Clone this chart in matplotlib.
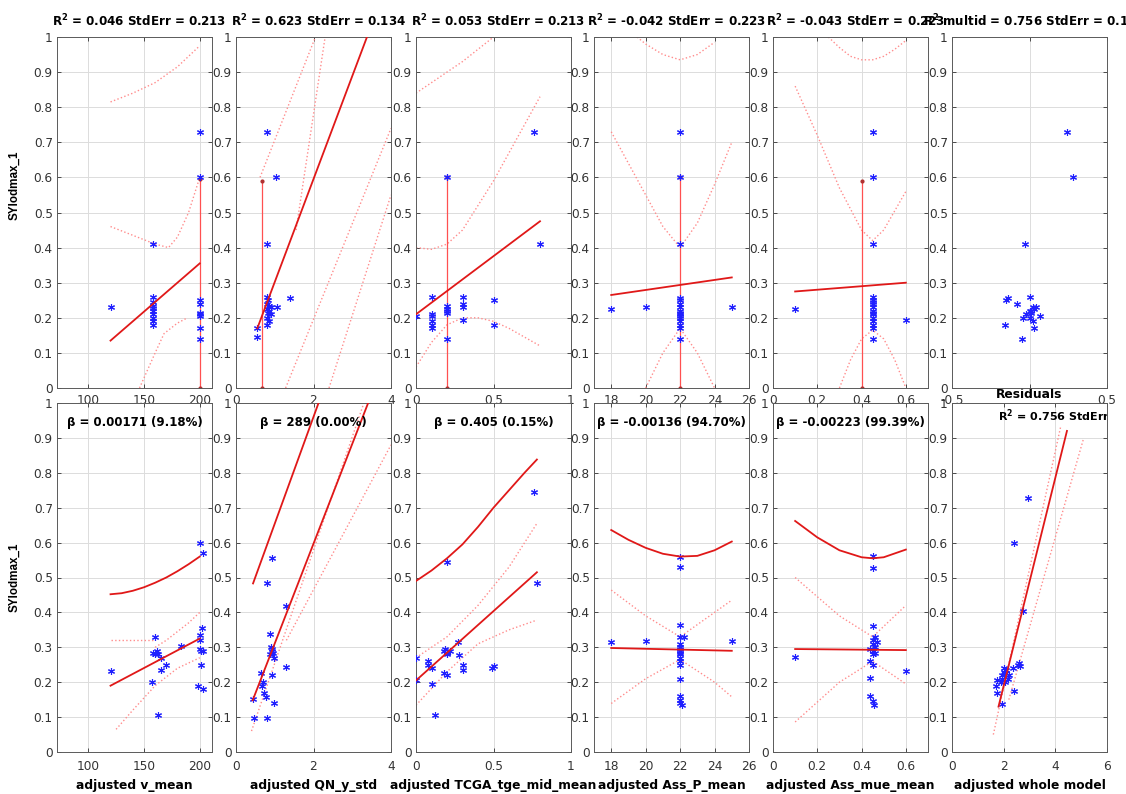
import matplotlib
matplotlib.use("Agg")
import matplotlib.pyplot as plt

plt.rcParams['font.family'] = ['DejaVu Sans']
plt.rcParams['mathtext.fontset'] = 'dejavusans'

# ---------------- data ----------------
R2 = r'$\mathbf{R}^{\mathbf{2}}$'
TITLES = [R2 + " = 0.046 StdErr = 0.213", R2 + " = 0.623 StdErr = 0.134",
          R2 + " = 0.053 StdErr = 0.213", R2 + " = -0.042 StdErr = 0.223",
          R2 + " = -0.043 StdErr = 0.223", R2 + " multid = 0.756 StdErr = 0.112"]
BETAS = ["β = 0.00171 (9.18%)", "β = 289 (0.00%)", "β = 0.405 (0.15%)",
         "β = -0.00136 (94.70%)", "β = -0.00223 (99.39%)"]
WHOLE_TEXT = R2 + " = 0.756 StdErr = 0.112"
XLABELS = ["adjusted v_mean", "adjusted QN_y_std", "adjusted TCGA_tge_mid_mean",
           "adjusted Ass_P_mean", "adjusted Ass_mue_mean", "adjusted whole model"]
YLABEL = "SYlodmax_1"
TOP6_XLABEL = "Residuals"

XLIMS = [(72, 211), (0, 4), (0, 1), (17, 26), (0, 0.7), (-0.5, 0.5)]
XTICKS = [[100, 150, 200], [0, 2, 4], [0, 0.5, 1], [18, 20, 22, 24, 26],
          [0, 0.2, 0.4, 0.6], [-0.5, 0, 0.5]]
XTICKLABELS = [["100", "150", "200"], ["0", "2", "4"], ["0", "0.5", "1"],
               ["18", "20", "22", "24", "26"], ["0", "0.2", "0.4", "0.6"],
               ["-0.5", "", "0.5"]]
B6_XLIM = (0, 6)
B6_XTICKS = [0, 2, 4, 6]
YTICKS = [0, 0.1, 0.2, 0.3, 0.4, 0.5, 0.6, 0.7, 0.8, 0.9, 1]
YTICKLABELS = ["0", "0.1", "0.2", "0.3", "0.4", "0.5", "0.6", "0.7", "0.8", "0.9", "1"]

# ---- top row ----
T1_X = [120, 158, 158, 158, 158, 158, 158, 158, 158, 158, 158,
        200, 200, 200, 200, 200, 200, 200, 200, 200]
T1_Y = [0.232, 0.41, 0.26, 0.245, 0.235, 0.228, 0.22, 0.21, 0.2, 0.19, 0.18,
        0.73, 0.60, 0.25, 0.24, 0.215, 0.21, 0.205, 0.17, 0.14]
T1_FIT = ([120, 200], [0.135, 0.355])
T1_VLINE = (200, 0.595)
T1_DOTS = [([120, 140, 160, 180, 200], [0.815, 0.84, 0.87, 0.915, 0.975]),
           ([120, 140, 160, 172, 180, 190, 200], [0.46, 0.435, 0.41, 0.40, 0.43, 0.5, 0.6]),
           ([146, 160, 168, 180, 189], [0.0, 0.1, 0.155, 0.185, 0.2])]

T2_X = [0.8, 1.02, 0.8, 0.55, 0.55, 1.05, 1.4, 0.8, 0.82, 0.8, 0.85, 0.9, 0.8,
        0.85, 0.82, 0.9, 0.8, 0.85, 0.8]
T2_Y = [0.73, 0.60, 0.41, 0.17, 0.145, 0.23, 0.255, 0.26, 0.25, 0.24, 0.235, 0.23,
        0.225, 0.22, 0.215, 0.21, 0.2, 0.19, 0.18]
T2_FIT = ([0.55, 3.38], [0.17, 1.0])
T2_VLINE = (0.68, 0.59)
T2_DOTS = [([0.62, 2.05], [0.6, 1.0]),
           ([1.55, 2.3], [0.45, 1.0]),
           ([1.28, 4.0], [0.0, 0.74]),
           ([2.4, 4.0], [0.0, 0.55])]

T3_X = [0.0, 0.1, 0.1, 0.1, 0.1, 0.1, 0.1, 0.2, 0.2, 0.2, 0.2, 0.2, 0.2,
        0.3, 0.3, 0.3, 0.3, 0.5, 0.5, 0.76, 0.8]
T3_Y = [0.205, 0.26, 0.21, 0.205, 0.19, 0.18, 0.17, 0.6, 0.235, 0.225, 0.22, 0.215, 0.14,
        0.26, 0.24, 0.23, 0.195, 0.25, 0.18, 0.73, 0.41]
T3_FIT = ([0, 0.8], [0.21, 0.475])
T3_VLINE = (0.2, 0.6)
T3_DOTS = [([0, 0.1, 0.2, 0.3, 0.4, 0.5], [0.84, 0.87, 0.9, 0.93, 0.965, 1.0]),
           ([0, 0.1, 0.2, 0.3, 0.4, 0.5, 0.6, 0.7, 0.8], [0.40, 0.395, 0.41, 0.45, 0.52, 0.59, 0.67, 0.75, 0.83]),
           ([0, 0.1, 0.2, 0.3, 0.4, 0.5, 0.6, 0.7, 0.8], [0.06, 0.13, 0.18, 0.2, 0.2, 0.19, 0.17, 0.145, 0.12])]

T4_X = [18, 20, 25] + [22] * 16
T4_Y = [0.225, 0.23, 0.23, 0.73, 0.6, 0.41, 0.255, 0.25, 0.24, 0.23, 0.22, 0.21,
        0.205, 0.2, 0.19, 0.18, 0.17, 0.14, 0.215]
T4_FIT = ([18, 25], [0.265, 0.315])
T4_VLINE = (22, 0.6)
T4_DOTS = [([19.5, 20, 21, 22, 23, 24], [1.0, 0.98, 0.95, 0.935, 0.95, 0.985]),
           ([18, 19, 20, 21, 22, 23, 24, 25], [0.73, 0.64, 0.55, 0.46, 0.40, 0.47, 0.58, 0.70]),
           ([20, 21, 22, 23, 24], [0.0, 0.1, 0.17, 0.1, 0.0])]

T5_X = [0.1, 0.6] + [0.45] * 16
T5_Y = [0.225, 0.195, 0.73, 0.6, 0.41, 0.26, 0.25, 0.245, 0.24, 0.23, 0.22, 0.215,
        0.21, 0.2, 0.19, 0.18, 0.17, 0.14]
T5_FIT = ([0.1, 0.6], [0.275, 0.30])
T5_VLINE = (0.4, 0.59)
T5_DOTS = [([0.25, 0.3, 0.35, 0.4, 0.45, 0.5, 0.55, 0.6], [1.0, 0.97, 0.945, 0.935, 0.935, 0.945, 0.965, 0.99]),
           ([0.1, 0.2, 0.3, 0.4, 0.45, 0.5, 0.6], [0.86, 0.72, 0.57, 0.45, 0.42, 0.45, 0.56]),
           ([0.3, 0.35, 0.4, 0.45, 0.5, 0.55, 0.6], [0.0, 0.08, 0.14, 0.165, 0.14, 0.08, 0.0])]

T6_X = [-0.15, -0.14, -0.16, -0.08, -0.04, -0.05, -0.03, 0.0, 0.0, 0.01, 0.02, 0.03,
        0.04, 0.02, 0.03, 0.07, 0.24, 0.28, -0.02, 0.01, 0.0]
T6_Y = [0.25, 0.255, 0.18, 0.24, 0.2, 0.14, 0.41, 0.26, 0.22, 0.215, 0.23, 0.225,
        0.23, 0.19, 0.17, 0.205, 0.73, 0.60, 0.21, 0.22, 0.2]

# ---- bottom row ----
B1_X = [120, 157, 160, 158, 160, 162, 163, 165, 163, 165, 170, 183, 200, 203, 202,
        200, 200, 200, 201, 203, 201, 198, 203]
B1_Y = [0.232, 0.20, 0.33, 0.285, 0.28, 0.29, 0.28, 0.27, 0.105, 0.235, 0.25, 0.305,
        0.60, 0.57, 0.355, 0.335, 0.32, 0.295, 0.29, 0.29, 0.25, 0.19, 0.18]
B1_FIT = ([120, 200], [0.19, 0.325])
B1_UPPER = ([120, 130, 140, 150, 160, 170, 180, 190, 200],
            [0.452, 0.455, 0.462, 0.472, 0.485, 0.50, 0.518, 0.538, 0.56])
B1_DOTS = [([120, 160], [0.32, 0.32]),
           ([160, 170, 180, 190, 200], [0.30, 0.32, 0.345, 0.37, 0.40]),
           ([125, 140, 160, 180, 200], [0.065, 0.12, 0.19, 0.24, 0.27])]

B2_X = [0.94, 0.81, 1.28, 0.89, 0.9, 0.92, 0.95, 0.88, 0.93, 0.98, 0.94, 1.28, 0.65,
        0.7, 0.66, 0.72, 0.77, 0.43, 0.98, 0.47, 0.81]
B2_Y = [0.557, 0.485, 0.418, 0.337, 0.30, 0.29, 0.285, 0.28, 0.295, 0.268, 0.222, 0.244,
        0.225, 0.2, 0.19, 0.17, 0.158, 0.153, 0.139, 0.096, 0.096]
B2_FIT = ([0.43, 3.41], [0.148, 1.0])
B2_UPPER = ([0.44, 2.13], [0.483, 1.0])
B2_DOTS = [([0.4, 3.3], [0.06, 1.0]),
           ([1.3, 4.0], [0.32, 0.88])]

B3_X = [0.0, 0.0, 0.08, 0.08, 0.1, 0.1, 0.12, 0.18, 0.2, 0.19, 0.2, 0.22, 0.2, 0.18,
        0.27, 0.28, 0.3, 0.3, 0.2, 0.49, 0.5, 0.76, 0.78]
B3_Y = [0.268, 0.206, 0.26, 0.25, 0.24, 0.196, 0.105, 0.29, 0.285, 0.295, 0.28, 0.29,
        0.22, 0.225, 0.316, 0.278, 0.25, 0.235, 0.545, 0.24, 0.245, 0.746, 0.485]
B3_FIT = ([0, 0.78], [0.205, 0.515])
B3_UPPER = ([0, 0.1, 0.2, 0.3, 0.4, 0.5, 0.6, 0.7, 0.78],
            [0.49, 0.52, 0.555, 0.595, 0.645, 0.70, 0.75, 0.80, 0.838])
B3_DOTS = [([0, 0.2, 0.4, 0.6, 0.78], [0.27, 0.33, 0.42, 0.53, 0.655]),
           ([0, 0.2, 0.4, 0.6, 0.78], [0.134, 0.23, 0.31, 0.35, 0.378])]

B4_X = [18, 20, 25, 22, 22, 22, 22, 22.2, 22, 22, 22, 22, 22, 22, 22, 22, 22, 22, 22,
        22, 22, 22.1]
B4_Y = [0.314, 0.319, 0.319, 0.531, 0.56, 0.364, 0.33, 0.33, 0.31, 0.30, 0.295, 0.29,
        0.285, 0.28, 0.27, 0.26, 0.25, 0.21, 0.16, 0.15, 0.14, 0.135]
B4_FIT = ([18, 25], [0.298, 0.29])
B4_UPPER = ([18, 19, 20, 21, 22, 23, 24, 25],
            [0.636, 0.608, 0.585, 0.568, 0.56, 0.562, 0.578, 0.603])
B4_DOTS = [([18, 20, 22, 24, 25], [0.464, 0.39, 0.33, 0.40, 0.435]),
           ([18, 20, 22, 24, 25], [0.139, 0.21, 0.265, 0.20, 0.158])]

B5_X = [0.1, 0.6, 0.45, 0.45, 0.45, 0.46, 0.45, 0.47, 0.45, 0.46, 0.44, 0.45, 0.46,
        0.45, 0.44, 0.45, 0.44, 0.44, 0.45, 0.455]
B5_Y = [0.271, 0.233, 0.562, 0.527, 0.362, 0.33, 0.32, 0.315, 0.31, 0.30, 0.295, 0.29,
        0.285, 0.28, 0.26, 0.25, 0.212, 0.16, 0.145, 0.135]
B5_FIT = ([0.1, 0.6], [0.295, 0.292])
B5_UPPER = ([0.1, 0.2, 0.3, 0.4, 0.45, 0.5, 0.6],
            [0.662, 0.615, 0.578, 0.558, 0.555, 0.558, 0.58])
B5_DOTS = [([0.1, 0.3, 0.45, 0.6], [0.5, 0.39, 0.33, 0.42]),
           ([0.1, 0.3, 0.45, 0.6], [0.086, 0.2, 0.26, 0.195])]

B6_X = [2.96, 2.39, 2.76, 2.6, 2.62, 2.55, 2.39, 1.75, 1.72, 1.75, 1.92, 1.9, 1.95,
        2.0, 2.05, 2.1, 2.15, 2.2, 2.0, 2.1, 1.95, 2.35, 2.05]
B6_Y = [0.729, 0.60, 0.405, 0.255, 0.245, 0.25, 0.176, 0.205, 0.19, 0.17, 0.138, 0.2,
        0.22, 0.23, 0.215, 0.225, 0.21, 0.22, 0.24, 0.235, 0.21, 0.24, 0.2]
B6_FIT = ([1.8, 4.45], [0.13, 0.92])
B6_DOTS = [([1.6, 4.2], [0.05, 0.93]),
           ([2.2, 5.1], [0.15, 0.90])]

# ---------------- layout ----------------
W, H = 1126, 794
LEFTS = [57, 236, 416, 594, 773, 952]
AX_W = 155
TOP_Y0, TOP_Y1 = 37, 388
BOT_Y0, BOT_Y1 = 403, 752

BLUE = '#2020ff'
RED = '#e01818'
PINK = '#ff8c8c'
GRIDC = '#dcdcdc'
TICK_FS = 8.7
TITLE_FS = 8.6
LABEL_FS = 8.8
TEXT_FS = 8.5

fig = plt.figure(figsize=(W / 100, H / 100), dpi=100)


def make_ax(left, y0, y1, xpad):
    ax = fig.add_axes([left / W, 1 - y1 / H, AX_W / W, (y1 - y0) / H])
    ax.set_facecolor('white')
    ax.set_ylim(0, 1)
    ax.set_yticks(YTICKS)
    ax.set_yticklabels(YTICKLABELS)
    ax.grid(True, color=GRIDC, lw=0.7)
    ax.set_axisbelow(True)
    ax.tick_params(direction='in', top=True, right=True, length=3, width=0.6,
                   labelsize=TICK_FS, colors='#333333')
    ax.tick_params(axis='y', pad=3)
    ax.tick_params(axis='x', pad=xpad)
    for s in ax.spines.values():
        s.set_color('#5a5a5a')
        s.set_linewidth(0.7)
    return ax


def scatter(ax, x, y):
    ax.plot(x, y, ls='none', marker=(6, 2, 0), ms=5, mew=0.8, color=BLUE, zorder=3)


def ylabel(ax, ycenter):
    ax.set_ylabel(YLABEL, fontsize=8.4, fontweight='bold',
                  family=['Liberation Sans', 'DejaVu Sans'])
    ax.yaxis.set_label_coords(-0.235, ycenter)


top_data = [(T1_X, T1_Y, T1_FIT, T1_VLINE, T1_DOTS),
            (T2_X, T2_Y, T2_FIT, T2_VLINE, T2_DOTS),
            (T3_X, T3_Y, T3_FIT, T3_VLINE, T3_DOTS),
            (T4_X, T4_Y, T4_FIT, T4_VLINE, T4_DOTS),
            (T5_X, T5_Y, T5_FIT, T5_VLINE, T5_DOTS),
            (T6_X, T6_Y, None, None, [])]

for i, (x, y, fit, vl, dots) in enumerate(top_data):
    ax = make_ax(LEFTS[i], TOP_Y0, TOP_Y1, 4.5)
    ax.set_xlim(*XLIMS[i])
    ax.set_xticks(XTICKS[i])
    ax.set_xticklabels(XTICKLABELS[i])
    for dx, dy in dots:
        ax.plot(dx, dy, ls=':', color=PINK, lw=1.0, zorder=2)
    if fit is not None:
        ax.plot(fit[0], fit[1], color=RED, lw=1.3, zorder=4)
    if vl is not None:
        ax.plot([vl[0], vl[0]], [0, vl[1]], color='#ff5050', lw=0.9, zorder=2,
                marker='.', ms=4, mfc='#b03030', mec='#b03030')
    scatter(ax, x, y)
    t = ax.set_title(TITLES[i], fontsize=TITLE_FS, fontweight='bold', pad=8)
    t.set_x(0.53)
    if i == 0:
        ylabel(ax, 0.578)
    if i == 5:
        ax.set_xlabel(TOP6_XLABEL, fontsize=LABEL_FS, fontweight='bold', labelpad=-14)

bot_data = [(B1_X, B1_Y, B1_FIT, B1_UPPER, B1_DOTS),
            (B2_X, B2_Y, B2_FIT, B2_UPPER, B2_DOTS),
            (B3_X, B3_Y, B3_FIT, B3_UPPER, B3_DOTS),
            (B4_X, B4_Y, B4_FIT, B4_UPPER, B4_DOTS),
            (B5_X, B5_Y, B5_FIT, B5_UPPER, B5_DOTS),
            (B6_X, B6_Y, B6_FIT, None, B6_DOTS)]

for i, (x, y, fit, up, dots) in enumerate(bot_data):
    ax = make_ax(LEFTS[i], BOT_Y0, BOT_Y1, 6)
    if i < 5:
        ax.set_xlim(*XLIMS[i])
        ax.set_xticks(XTICKS[i])
        ax.set_xticklabels(XTICKLABELS[i])
    else:
        ax.set_xlim(*B6_XLIM)
        ax.set_xticks(B6_XTICKS)
    for dx, dy in dots:
        ax.plot(dx, dy, ls=':', color=PINK, lw=1.0, zorder=2)
    if up is not None:
        ax.plot(up[0], up[1], color=RED, lw=1.3, zorder=4)
    ax.plot(fit[0], fit[1], color=RED, lw=1.3, zorder=4)
    scatter(ax, x, y)
    if i < 5:
        ax.text(0.5, 0.945, BETAS[i], transform=ax.transAxes, ha='center', va='center',
                fontsize=TEXT_FS, fontweight='bold', zorder=5)
    else:
        ax.text(0.30, 0.965, WHOLE_TEXT, transform=ax.transAxes, ha='left', va='center',
                fontsize=8.0, fontweight='bold', clip_on=True, zorder=5)
    ax.set_xlabel(XLABELS[i], fontsize=LABEL_FS, fontweight='bold', labelpad=4)
    if i == 0:
        ylabel(ax, 0.5)

fig.savefig('out.png', dpi=100)
